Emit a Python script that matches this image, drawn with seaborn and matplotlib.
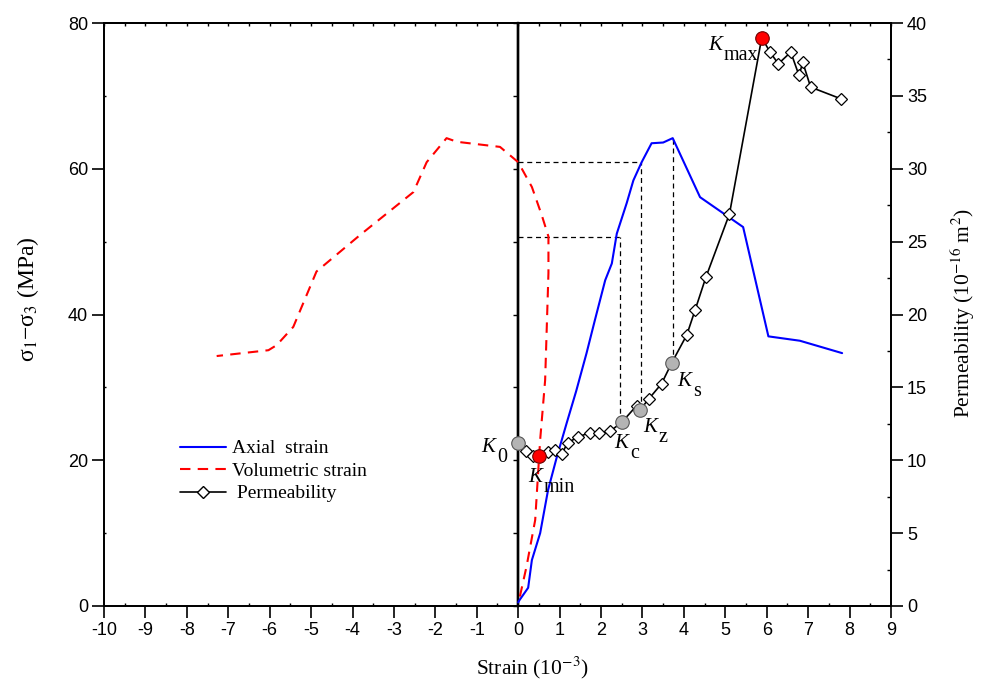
import matplotlib
matplotlib.use("Agg")
import matplotlib.pyplot as plt
import seaborn as sns
from matplotlib.lines import Line2D
from matplotlib.ticker import MultipleLocator, NullFormatter

# ---------------- data ----------------
axial_x = [0.0, 0.03, 0.24, 0.33, 0.53, 0.72, 0.93, 1.17, 1.40, 1.65, 1.85, 2.10,
           2.26, 2.38, 2.62, 2.78, 2.98, 3.22, 3.50, 3.73, 4.39, 5.43, 6.04, 6.80, 7.82]
axial_y = [0.5, 0.8, 2.5, 6.3, 10.0, 15.9, 20.4, 25.1, 29.5, 34.7, 39.2, 44.7,
           47.0, 51.1, 55.3, 58.4, 60.9, 63.5, 63.6, 64.2, 56.1, 52.0, 37.0, 36.4, 34.7]

vol_x = [0.04, 0.20, 0.41, 0.53, 0.65, 0.73, 0.73, 0.57, 0.33, 0.0, -0.44, -1.48,
         -1.73, -2.21, -2.53, -3.82, -4.87, -5.43, -5.83, -6.03, -7.28]
vol_y = [1.3, 5.4, 11.8, 22.8, 31.0, 45.7, 50.7, 53.6, 57.5, 60.9, 63.0, 63.7,
         64.2, 60.9, 56.8, 50.9, 45.9, 38.3, 35.8, 35.1, 34.3]

perm_x = [0.0, 0.20, 0.35, 0.50, 0.73, 0.89, 1.05, 1.19, 1.45, 1.73, 1.96, 2.22,
          2.50, 2.86, 2.94, 3.15, 3.46, 3.71, 4.07, 4.27, 4.53, 5.10, 5.88,
          6.08, 6.28, 6.58, 6.78, 6.87, 7.06, 7.79]
perm_y = [11.2, 10.65, 10.3, 10.3, 10.6, 10.7, 10.4, 11.2, 11.6, 11.9, 11.85, 12.0,
          12.6, 13.75, 13.45, 14.2, 15.25, 16.7, 18.6, 20.3, 22.55, 26.9, 39.0,
          38.0, 37.2, 38.0, 36.4, 37.3, 35.6, 34.8]

# characteristic permeability points
gray_names = ["0", "c", "z", "s"]
gray_x = [0.0, 2.50, 2.94, 3.71]
gray_y = [11.2, 12.6, 13.45, 16.7]
red_names = ["min", "max"]
red_x = [0.50, 5.88]
red_y = [10.3, 39.0]

# dashed guide lines: stress level on the curve -> permeability point
guide_x = [2.46, 2.96, 3.73]
guide_stress = [50.6, 60.9, 64.2]
guide_perm = [12.6, 13.45, 16.7]
guide_horizontal = [True, True, False]

legend_labels = ["Axial  strain", "Volumetric strain", " Permeability"]

# ---------------- style ----------------
sns.set_style("ticks")
plt.rcParams["font.family"] = ["Liberation Sans", "DejaVu Sans"]
plt.rcParams["mathtext.fontset"] = "stix"
plt.rcParams["axes.unicode_minus"] = False
for key in ("axes.edgecolor", "xtick.color", "ytick.color", "text.color",
            "axes.labelcolor", "xtick.labelcolor", "ytick.labelcolor"):
    plt.rcParams[key] = "black"
serif = ["Liberation Serif", "DejaVu Serif"]

fig = plt.figure(figsize=(9.92, 6.84), dpi=100)
ax = fig.add_axes([104 / 992, 1 - 606 / 684, (891 - 104) / 992, (606 - 23) / 684])
ax2 = ax.twinx()

ax.set_xlim(-10, 9)
ax.set_ylim(0, 80)
ax2.set_ylim(0, 40)
ratio = 80 / 40

# zero-strain axis line
ax.axvline(0, color="black", lw=1.7, zorder=2)

# guide lines
for gx, gs, gp, gh in zip(guide_x, guide_stress, guide_perm, guide_horizontal):
    ax.vlines(gx, gp * ratio, gs, colors="black", linestyles=(0, (4, 3)), lw=0.9, zorder=1)
    if gh:
        ax.hlines(gs, 0, gx, colors="black", linestyles=(0, (4, 3)), lw=0.9, zorder=1)

# curves
sns.lineplot(x=axial_x, y=axial_y, ax=ax, color="#0000ff", lw=1.5, sort=False,
             estimator=None, zorder=3)
sns.lineplot(x=vol_x, y=vol_y, ax=ax, color="#ff0000", lw=1.5, sort=False,
             estimator=None, zorder=3)
ax.lines[-1].set_linestyle((0, (5, 3.5)))

sns.lineplot(x=perm_x, y=perm_y, ax=ax2, color="black", lw=1.2, sort=False,
             estimator=None, marker="D", markersize=6, markerfacecolor="white",
             markeredgecolor="black", markeredgewidth=0.9, zorder=4)
sns.scatterplot(x=gray_x, y=gray_y, ax=ax2, s=95, color="#b4b4b4",
                edgecolor="#555555", linewidth=0.8, zorder=5)
sns.scatterplot(x=red_x, y=red_y, ax=ax2, s=95, color="#ff0000",
                edgecolor="#700000", linewidth=0.8, zorder=5)


def k_label(sub, px, py, dx, dy):
    ax2.annotate("K", (px, py), xytext=(dx, dy), textcoords="offset pixels",
                 ha="left", va="baseline", fontsize=15, family=serif, style="italic")
    ax2.annotate(sub, (px, py), xytext=(dx + 16, dy - 10), textcoords="offset pixels",
                 ha="left", va="baseline", fontsize=14.5, family=serif)


gray_off = [(-37, -9), (-8, -26), (3, -22), (5, -23)]
for n, px, py, (dx, dy) in zip(gray_names, gray_x, gray_y, gray_off):
    k_label(n, px, py, dx, dy)
red_off = [(-11, -26), (-54, -12)]
for n, px, py, (dx, dy) in zip(red_names, red_x, red_y, red_off):
    k_label(n, px, py, dx, dy)

ax.set_xlim(-10, 9)
ax.set_ylim(0, 80)
ax2.set_ylim(0, 40)

# ---------------- axes / ticks ----------------
for a in (ax, ax2):
    for s in a.spines.values():
        s.set_linewidth(1.3)
        s.set_color("black")

ax.xaxis.set_major_locator(MultipleLocator(1))
ax.xaxis.set_minor_locator(MultipleLocator(0.5))
ax.yaxis.set_major_locator(MultipleLocator(20))
ax.yaxis.set_minor_locator(MultipleLocator(10))
ax2.yaxis.set_major_locator(MultipleLocator(5))
ax2.yaxis.set_minor_locator(MultipleLocator(2.5))

ax.tick_params(axis="x", which="major", direction="out", length=8.5, width=1.2,
               labelsize=13, pad=3, top=False)
ax.tick_params(axis="x", which="minor", direction="in", length=2, width=1.0, top=False)
ax.tick_params(axis="y", which="major", direction="out", length=8.5, width=1.2,
               labelsize=13, pad=3)
ax.tick_params(axis="y", which="minor", direction="in", length=1.5, width=1.0)
ax2.tick_params(axis="y", which="major", direction="out", length=8.5, width=1.2,
                labelsize=13, pad=3)
ax2.tick_params(axis="y", which="minor", direction="in", length=3, width=1.0)

top = ax.secondary_xaxis("top")
top.xaxis.set_major_locator(MultipleLocator(0.5))
top.xaxis.set_major_formatter(NullFormatter())
top.tick_params(direction="in", length=2.5, width=1.0, color="black")
top.spines["top"].set_linewidth(1.3)

mid = ax.secondary_yaxis(10 / 19)
mid.yaxis.set_major_locator(MultipleLocator(10))
mid.yaxis.set_major_formatter(NullFormatter())
mid.tick_params(direction="in", length=3.5, width=1.0, color="black")
for s in mid.spines.values():
    s.set_linewidth(1.7)
    s.set_color("black")

ax.set_xlabel(r"Strain (10$^{-3}$)", family=serif, fontsize=15.5)
ax.xaxis.set_label_coords(0.544, -0.083)
ax.set_ylabel(r"σ$_1$−σ$_3$ (MPa)", family=serif, fontsize=17)
ax.yaxis.set_label_coords(-0.08, 0.527)
ax2.set_ylabel(r"Permeability (10$^{-16}$ m$^{2}$)", family=serif, fontsize=15.5)
ax2.yaxis.set_label_coords(1.073, 0.503)

# legend
handles = [
    Line2D([], [], color="#0000ff", lw=1.5),
    Line2D([], [], color="#ff0000", lw=1.5, linestyle=(0, (5, 3.5))),
    Line2D([], [], color="black", lw=1.2, marker="D", markersize=6,
           markerfacecolor="white", markeredgecolor="black"),
]
ax2.legend(handles, legend_labels, loc="upper left", bbox_to_anchor=(0.0966, 0.285),
           frameon=False, handlelength=2.35, handletextpad=0.3, labelspacing=0.25,
           borderpad=0, borderaxespad=0, prop={"family": serif, "size": 14})

fig.savefig("out.png", dpi=100)
